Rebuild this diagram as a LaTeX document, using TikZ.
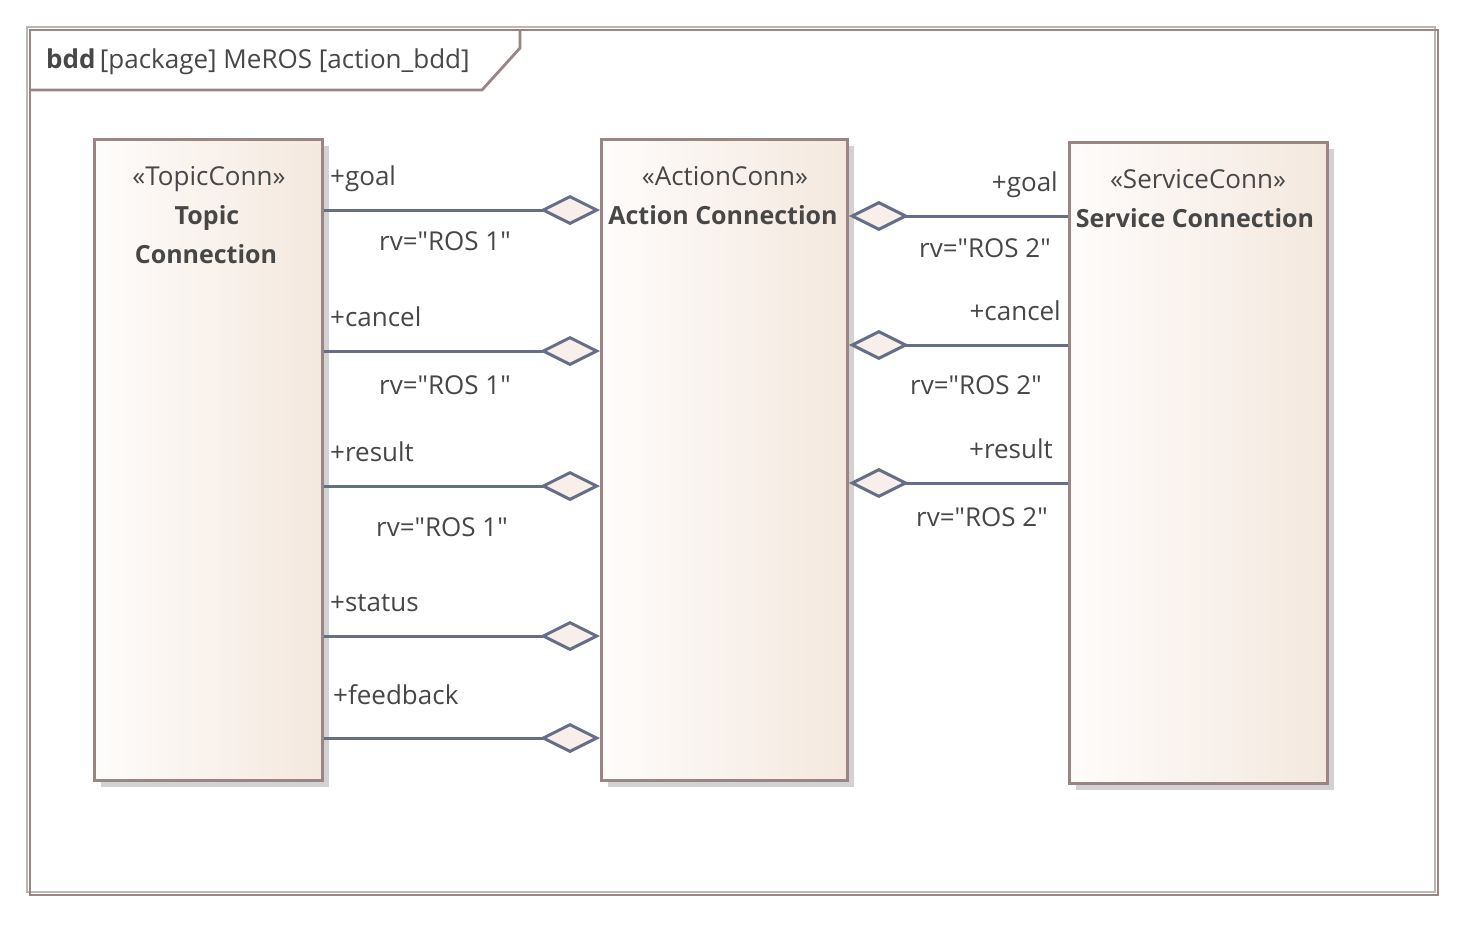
\documentclass[tikz,border=0pt]{standalone}
\usepackage{fontspec}
\setmainfont{Open Sans}[Ligatures=TeXOff]
\usetikzlibrary{arrows.meta}
\definecolor{frameb}{HTML}{9A8585}
\definecolor{frameg}{HTML}{B8B8B8}
\definecolor{shadowc}{HTML}{D2D2D2}
\definecolor{linec}{HTML}{646E87}
\definecolor{diafill}{HTML}{F8EEEA}
\definecolor{txt}{HTML}{474747}
\definecolor{gradl}{HTML}{FEFCFB}
\definecolor{gradr}{HTML}{F4E8DE}
\tikzset{
  blockbox/.style={draw=frameb, line width=2.8pt, left color=gradl, right color=gradr, rectangle, inner sep=0pt, anchor=north west},
  shadowbox/.style={fill=shadowc, draw=none, rectangle, inner sep=0pt, anchor=north west},
  lbl/.style={font=\fontsize{26}{30}\selectfont, text=txt, inner sep=0pt},
  ttlb/.style={font=\fontsize{25}{30}\selectfont\bfseries, text=txt, inner sep=0pt, anchor=base},
  agg/.style={draw=linec, line width=3pt, -{Diamond[length=60pt, width=30pt, fill=diafill, line width=3pt]}},
}
\begin{document}
\begin{tikzpicture}[x=1pt, y=-1pt]
\useasboundingbox (0,0) rectangle (1467,924);
\fill[white] (0,0) rectangle (1467,924);
% frame
\draw[frameg, line width=2.8pt] (27,27) rectangle (1435,892);
\draw[frameb, line width=2.8pt] (30,30) rectangle (1438,895);
\draw[frameb, line width=2.8pt] (30,90) -- (482,90) -- (520,48) -- (520,30);
\node[lbl, anchor=base west] (hdr) at (46,68) {\textbf{bdd}\,[package] MeROS [action\_bdd]};
% shadows
\node[shadowbox, minimum width=228pt, minimum height=641pt] (topicS) at (101,146) {};
\node[shadowbox, minimum width=246pt, minimum height=641pt] (actionS) at (608,146) {};
\node[shadowbox, minimum width=258pt, minimum height=641pt] (serviceS) at (1076,149) {};
% blocks
\node[blockbox, minimum width=228pt, minimum height=641pt] (topic) at (93,138) {};
\node[blockbox, minimum width=246pt, minimum height=641pt] (action) at (600,138) {};
\node[blockbox, minimum width=258pt, minimum height=641pt] (service) at (1068,141) {};
% titles
\node[lbl, anchor=base] (topicT1) at (209,185) {«TopicConn»};
\node[ttlb] (topicT2) at (207,224) {Topic};
\node[ttlb] (topicT3) at (206,263) {Connection};
\node[lbl, anchor=base] (actionT1) at (725,185) {«ActionConn»};
\node[ttlb] (actionT2) at (723,224) {Action Connection};
\node[lbl, anchor=base] (serviceT1) at (1198,188) {«ServiceConn»};
\node[ttlb] (serviceT2) at (1195,227) {Service Connection};
% connector end points
\foreach \n/\y in {g/210, c/351, r/486, s/636, f/738} {
  \coordinate (tl\n) at (topic.east |- 0,\y);
  \coordinate (al\n) at (action.west |- 0,\y);
}
\foreach \n/\y in {g/216, c/345, r/483} {
  \coordinate (sr\n) at (service.west |- 0,\y);
  \coordinate (ar\n) at (action.east |- 0,\y);
}
\draw[agg] (tlg) -- (alg);
\draw[agg] (tlc) -- (alc);
\draw[agg] (tlr) -- (alr);
\draw[agg] (tls) -- (als);
\draw[agg] (tlf) -- (alf);
\draw[agg] (srg) -- (arg);
\draw[agg] (src) -- (arc);
\draw[agg] (srr) -- (arr);
% left labels
\node[lbl, anchor=base west] (l1) at (330,185) {+goal};
\node[lbl, anchor=base] (l2) at (445,250) {rv="ROS 1"};
\node[lbl, anchor=base west] (l3) at (330,326) {+cancel};
\node[lbl, anchor=base] (l4) at (445,394) {rv="ROS 1"};
\node[lbl, anchor=base west] (l5) at (330,461) {+result};
\node[lbl, anchor=base] (l6) at (442,536) {rv="ROS 1"};
\node[lbl, anchor=base west] (l7) at (330,611) {+status};
\node[lbl, anchor=base west] (l8) at (333,704) {+feedback};
% right labels
\node[lbl, anchor=base east] (r1) at (1058,191) {+goal};
\node[lbl, anchor=base] (r2) at (985,257) {rv="ROS 2"};
\node[lbl, anchor=base east] (r3) at (1061,320) {+cancel};
\node[lbl, anchor=base] (r4) at (976,394) {rv="ROS 2"};
\node[lbl, anchor=base east] (r5) at (1053,458) {+result};
\node[lbl, anchor=base] (r6) at (982,526) {rv="ROS 2"};
\end{tikzpicture}
\end{document}
